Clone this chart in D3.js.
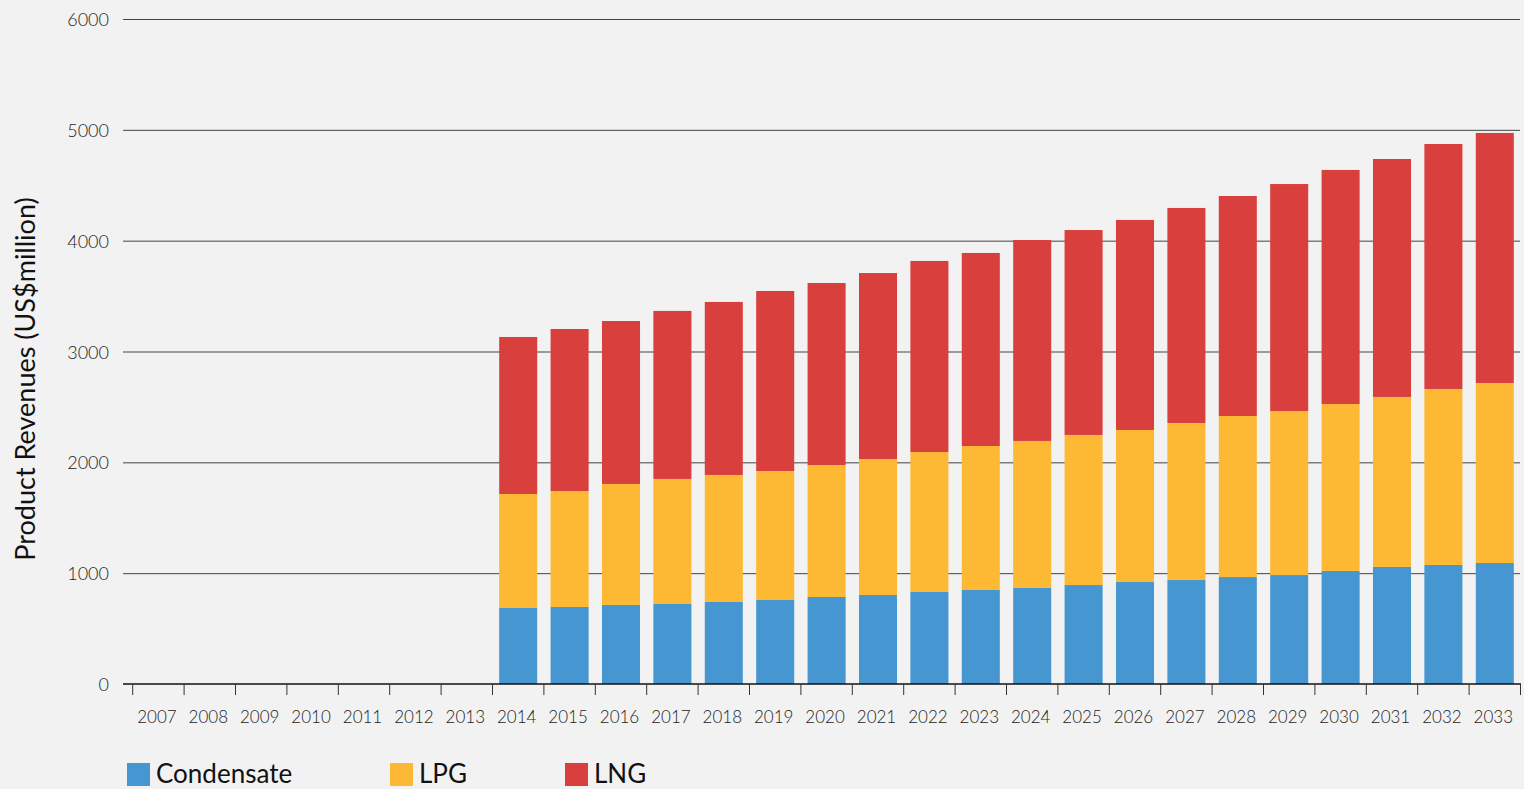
<!DOCTYPE html>
<html>
<head>
<meta charset="utf-8">
<script src="https://cdn.jsdelivr.net/npm/d3@7"></script>
<style>
  body { margin: 0; background: #f2f2f2; }
  svg { display: block; font-family: Lato, "Open Sans", sans-serif; }
</style>
</head>
<body>
<div id="chart"></div>
<script>
// data (US$ million)
const years = d3.range(2007, 2034).map(String);
const condensate = [0,0,0,0,0,0,0, 686,695,713,722,740,758,785,803,830,848,866,893,920,938,965,983,1020,1056,1074,1092];
const lpg        = [0,0,0,0,0,0,0, 1028,1046,1092,1128,1146,1164,1191,1227,1263,1299,1327,1354,1372,1417,1453,1480,1506,1534,1588,1624];
const lng        = [0,0,0,0,0,0,0, 1417,1462,1470,1516,1561,1624,1642,1678,1724,1742,1813,1849,1895,1940,1985,2048,2112,2147,2210,2256];
const seriesNames = ["Condensate", "LPG", "LNG"];
const colors = ["#4596d1", "#fdb933", "#d93f3c"];
const yTicks = [0, 1000, 2000, 3000, 4000, 5000, 6000];

const width = 1524, height = 789;

const svg = d3.select("#chart")
    .append("svg")
    .attr("width", width)
    .attr("height", height);

//scales
const x = d3.scaleBand()
    .domain(years)
    .range([132.7, 1520.5])
    .paddingInner(0.26)
    .paddingOuter(0.13);
const xEdge = d3.scaleBand().domain(years).range([132.7, 1520.5]); // for tick marks at band edges

const y = d3.scaleLinear()
    .domain([0, 6000])
    .range([684, 19]);

//gridlines
svg.append("g")
    .selectAll("line")
    .data(yTicks.filter(d => d > 0))
    .enter()
    .append("line")
    .attr("x1", 123)
    .attr("x2", 1520)
    .attr("y1", d => y(d) + 0.5)
    .attr("y2", d => y(d) + 0.5)
    .attr("stroke", "#444")
    .attr("stroke-width", 1);

//y tick labels
svg.append("g")
    .selectAll("text")
    .data(yTicks)
    .enter()
    .append("text")
    .attr("x", 109)
    .attr("y", d => y(d))
    .attr("text-anchor", "end")
    .attr("dominant-baseline", "central")
    .style("font-size", "18px")
    .style("font-weight", 300)
    .attr("fill", "#222")
    .text(d => d);

//stack
const table = years.map((yr, i) => ({
    year: yr,
    Condensate: condensate[i],
    LPG: lpg[i],
    LNG: lng[i]
}));
const stacked = d3.stack().keys(seriesNames)(table);

svg.append("g")
    .selectAll("g")
    .data(stacked)
    .enter()
    .append("g")
    .attr("fill", (d, i) => colors[i])
    .selectAll("rect")
    .data(d => d)
    .enter()
    .append("rect")
    .attr("x", d => x(d.data.year))
    .attr("width", x.bandwidth())
    .attr("y", d => y(d[1]))
    .attr("height", d => y(d[0]) - y(d[1]));

//x axis line + ticks
svg.append("line")
    .attr("x1", 123).attr("x2", 1521)
    .attr("y1", 684).attr("y2", 684)
    .attr("stroke", "#111")
    .attr("stroke-width", 1.5);

const edges = years.map(d => xEdge(d)).concat([xEdge.range()[1]]);
svg.append("g")
    .selectAll("line")
    .data(edges)
    .enter()
    .append("line")
    .attr("x1", d => d).attr("x2", d => d)
    .attr("y1", 684).attr("y2", 695)
    .attr("stroke", "#333")
    .attr("stroke-width", 1);

svg.append("g")
    .selectAll("text")
    .data(years)
    .enter()
    .append("text")
    .attr("x", d => xEdge(d) + xEdge.bandwidth() / 2 - 1.5)
    .attr("y", 716)
    .attr("text-anchor", "middle")
    .attr("dominant-baseline", "central")
    .style("font-size", "17px")
    .style("font-weight", 300)
    .attr("fill", "#222")
    .text(d => d);

//y axis title
svg.append("text")
    .attr("transform", "translate(35,379) rotate(-90)")
    .attr("text-anchor", "middle")
    .style("font-size", "27px")
    .attr("fill", "#111")
    .text("Product Revenues (US$million)");

//legend
const legendX = [127, 390, 565];
const legend = svg.append("g")
    .selectAll("g")
    .data(seriesNames)
    .enter()
    .append("g")
    .attr("transform", (d, i) => `translate(${legendX[i]},763)`);

legend.append("rect")
    .attr("width", 23)
    .attr("height", 23)
    .attr("fill", (d, i) => colors[i]);

legend.append("text")
    .attr("x", 29)
    .attr("y", 20)
    .style("font-size", "26px")
    .attr("fill", "#111")
    .text(d => d);
</script>
</body>
</html>
